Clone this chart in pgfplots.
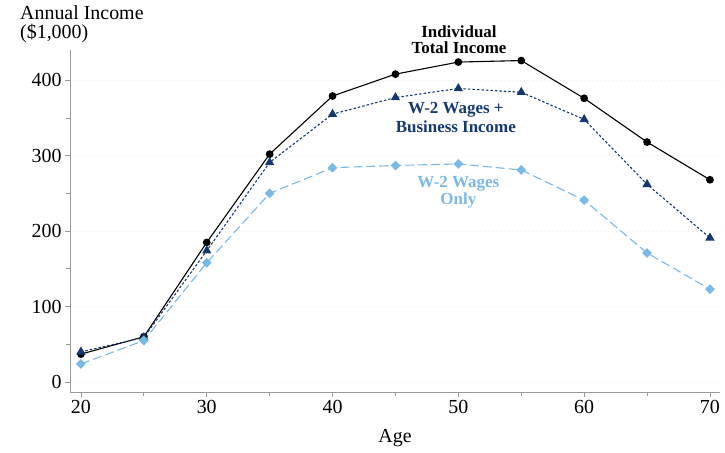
\documentclass[border=0pt]{standalone}
\usepackage{pgfplots}
\pgfplotsset{compat=1.18}
\usepackage{fontspec}
\setmainfont{Liberation Serif}
\definecolor{navy}{RGB}{22,56,112}
\definecolor{lblue}{RGB}{122,184,230}
\begin{document}
\begin{tikzpicture}[x=1bp,y=1bp]
\useasboundingbox (0,0) rectangle (725,453);
\begin{axis}[
  at={(70bp,61bp)}, anchor=south west,
  scale only axis, width=650bp, height=342bp,
  xmin=19.13, xmax=70.8, ymin=-13.2, ymax=440,
  axis x line*=bottom, axis y line*=left,
  axis line style={-, draw=gray!80, line width=0.9pt},
  xtick={20,30,...,70}, ytick={0,100,...,400},
  minor xtick={25,35,...,65}, minor ytick={50,150,...,350},
  tick align=outside, tick style={gray!80, line width=0.8pt},
  major tick length=5bp, minor tick length=4bp,
  ymajorgrids, major grid style={dash pattern=on 1pt off 3pt, gray!15},
  ticklabel style={font=\fontsize{20}{22}\selectfont},
  /pgf/number format/assume math mode=true,
  /pgf/number format/1000 sep={},
  clip=false,
]
\addplot[black, line width=1.1pt, mark=*, mark size=3.3bp] coordinates {
(20,37)(25,60)(30,185)(35,302)(40,379)(45,408)(50,424)(55,426)(60,376)(65,318)(70,268)};
\addplot[navy, line width=1.1pt, dash pattern=on 2.5pt off 2pt, mark=triangle*, mark size=4.3bp, mark options={solid}] coordinates {
(20,40)(25,59)(30,174)(35,291)(40,355)(45,377)(50,389)(55,384)(60,348)(65,262)(70,191)};
\addplot[lblue, line width=1.1pt, dash pattern=on 9pt off 4pt, mark=square*, mark size=2.9bp, mark options={solid, rotate=45}] coordinates {
(20,24)(25,55)(30,158)(35,250)(40,284)(45,287)(50,289)(55,281)(60,241)(65,171)(70,123)};
\node[align=center, font=\fontsize{17}{16}\selectfont\bfseries, black] at (axis cs:50.05,454) {Individual\\Total Income};
\node[align=center, font=\fontsize{17}{19}\selectfont\bfseries, navy] at (axis cs:49.8,350) {W-2 Wages +\\Business Income};
\node[align=center, font=\fontsize{17}{17}\selectfont\bfseries, lblue] at (axis cs:50,252) {W-2 Wages\\Only};
\end{axis}
\node[anchor=north west, align=left, inner sep=0pt, font=\fontsize{20}{20}\selectfont] at (20,448) {Annual Income\\(\$1,000)};
\node[font=\fontsize{20}{22}\selectfont] at (395,15) {Age};
\end{tikzpicture}
\end{document}
